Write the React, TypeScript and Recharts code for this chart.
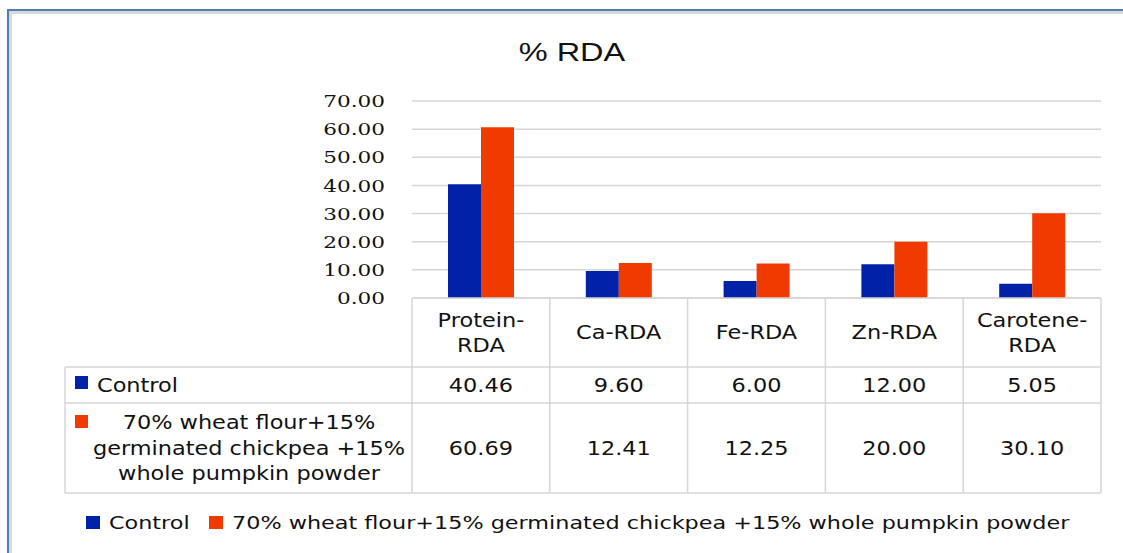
import React from 'react';
import { BarChart, Bar, XAxis, YAxis, CartesianGrid, Legend } from 'recharts';

const categories = ['Protein-RDA', 'Ca-RDA', 'Fe-RDA', 'Zn-RDA', 'Carotene-RDA'];
const headerLines = [['Protein-', 'RDA'], ['Ca-RDA'], ['Fe-RDA'], ['Zn-RDA'], ['Carotene-', 'RDA']];
const controlValues = [40.46, 9.6, 6.0, 12.0, 5.05];
const blendValues = [60.69, 12.41, 12.25, 20.0, 30.1];
const yTicks = [0, 10, 20, 30, 40, 50, 60, 70];
const seriesNames = ['Control', '70% wheat flour+15% germinated chickpea +15% whole pumpkin powder'];
const blendLabelLines = ['70% wheat flour+15%', 'germinated chickpea +15%', 'whole pumpkin powder'];
const title = '% RDA';

const data = categories.map((c, i) => ({ name: c, control: controlValues[i], blend: blendValues[i] }));

const W = 1123;
const H = 553;
const PLOT_LEFT = 412;
const PLOT_RIGHT_MARGIN = 22;
const PLOT_W = W - PLOT_LEFT - PLOT_RIGHT_MARGIN;
const BLUE = '#0022a8';
const ORANGE = '#f03a00';
const GRID = '#d6d6d6';
const TABLE_FONT = '"DejaVu Sans", sans-serif';
const SX = 1.18;

const ST = ({ x, y, anchor = 'middle', size = 19, sx = SX, family = TABLE_FONT, children }: any) => (
  <text
    transform={`translate(${x},${y}) scale(${sx},1)`}
    x={0}
    y={0}
    dy="0.36em"
    textAnchor={anchor}
    fontSize={size}
    fontFamily={family}
    fill="#111"
  >
    {children}
  </text>
);

const YTick = (props: any) => {
  const { y, payload } = props;
  return (
    <ST x={PLOT_LEFT - 27} y={y} anchor="end" size={17} sx={1.27} family='"DejaVu Serif", serif'>
      {Number(payload.value).toFixed(2)}
    </ST>
  );
};

const TableTick = (props: any) => {
  const { x, y, payload } = props;
  const idx = categories.indexOf(payload.value);
  const band = PLOT_W / categories.length;
  const top = y;
  const r1 = top + 69;
  const r2 = r1 + 36;
  const r3 = r2 + 90;
  const left = x - band / 2;
  const right = x + band / 2;
  const lines = headerLines[idx] || [payload.value];
  const hc = (top + r1) / 2;
  const lineStyle = { stroke: GRID, strokeWidth: 1.5 };
  const els: any[] = [];
  els.push(<line key="vr" x1={right} x2={right} y1={top} y2={r3} {...lineStyle} />);
  els.push(<line key="h1" x1={left} x2={right} y1={r1} y2={r1} {...lineStyle} />);
  els.push(<line key="h2" x1={left} x2={right} y1={r2} y2={r2} {...lineStyle} />);
  els.push(<line key="h3" x1={left} x2={right} y1={r3} y2={r3} {...lineStyle} />);
  if (idx === 0) {
    const lx = 65;
    els.push(<line key="vl" x1={left} x2={left} y1={top} y2={r3} {...lineStyle} />);
    els.push(<line key="lv" x1={lx} x2={lx} y1={r1} y2={r3} {...lineStyle} />);
    els.push(<line key="l1" x1={lx} x2={left} y1={r1} y2={r1} {...lineStyle} />);
    els.push(<line key="l2" x1={lx} x2={left} y1={r2} y2={r2} {...lineStyle} />);
    els.push(<line key="l3" x1={lx} x2={left} y1={r3} y2={r3} {...lineStyle} />);
    els.push(<rect key="kb" x={75} y={r1 + 9} width={13} height={13} fill={BLUE} />);
    els.push(<ST key="tc" x={97} y={(r1 + r2) / 2} anchor="start">{seriesNames[0]}</ST>);
    els.push(<rect key="ko" x={75} y={r2 + 12} width={13} height={13} fill={ORANGE} />);
    const mid = (r2 + r3) / 2;
    blendLabelLines.forEach((t, i) => {
      els.push(
        <ST key={'bl' + i} x={249} y={mid + (i - 1) * 25.5}>
          {t}
        </ST>
      );
    });
  }
  lines.forEach((t: string, i: number) => {
    const cy = lines.length === 1 ? hc : hc + (i - 0.5) * 25;
    els.push(
      <ST key={'hd' + i} x={x} y={cy}>
        {t}
      </ST>
    );
  });
  els.push(<ST key="vc" x={x} y={(r1 + r2) / 2}>{controlValues[idx].toFixed(2)}</ST>);
  els.push(<ST key="vb" x={x} y={(r2 + r3) / 2}>{blendValues[idx].toFixed(2)}</ST>);
  return <g>{els}</g>;
};

const LegendContent = () => {
  const colors = [BLUE, ORANGE];
  const pos = [86, 209];
  return (
    <svg width={W} height={30} style={{ display: 'block' }}>
      {seriesNames.map((n, i) => (
        <g key={n}>
          <rect x={pos[i]} y={8} width={14} height={13} fill={colors[i]} />
          <text
            transform={`translate(${pos[i] + 23},15) scale(1.24,1)`}
            dy="0.36em"
            fontSize={18}
            fontFamily={TABLE_FONT}
            fill="#111"
          >
            {n}
          </text>
        </g>
      ))}
    </svg>
  );
};

export default function App() {
  return (
    <div style={{ position: 'relative', width: W, height: H, overflow: 'hidden', background: '#fff' }}>
      <style>{`html,body{margin:0;padding:0;overflow:hidden;background:#fff}`}</style>
      <div
        style={{
          position: 'absolute',
          left: 7,
          top: 9,
          width: 1300,
          height: 700,
          border: '2px solid #4f7eb9',
          boxShadow: 'inset 0 0 0 3px #d9d9d9',
          boxSizing: 'border-box',
        }}
      />
      <svg width={W} height={90} style={{ position: 'absolute', left: 0, top: 0 }}>
        <text
          transform="translate(572,61) scale(1.25,1)"
          textAnchor="middle"
          fontSize={26}
          fontFamily='"Liberation Sans", Arial, sans-serif'
          fill="#111"
        >
          {title}
        </text>
      </svg>
      <div style={{ position: 'absolute', left: 0, top: 0 }}>
        <BarChart
          width={W}
          height={H}
          data={data}
          margin={{ top: 101, right: PLOT_RIGHT_MARGIN, left: 0, bottom: 0 }}
          barGap={0}
          barSize={33}
        >
          <CartesianGrid vertical={false} stroke={GRID} strokeWidth={1.5} />
          <YAxis
            width={PLOT_LEFT}
            domain={[0, 70]}
            ticks={yTicks}
            axisLine={false}
            tickLine={false}
            tick={<YTick />}
            interval={0}
          />
          <XAxis
            dataKey="name"
            height={255}
            axisLine={{ stroke: GRID, strokeWidth: 1.5 }}
            tickLine={false}
            tickSize={0}
            tickMargin={0}
            interval={0}
            tick={<TableTick />}
          />
          <Bar dataKey="control" name={seriesNames[0]} fill={BLUE} isAnimationActive={false} />
          <Bar dataKey="blend" name={seriesNames[1]} fill={ORANGE} isAnimationActive={false} />
          <Legend
            layout="horizontal"
            verticalAlign="middle"
            align="center"
            wrapperStyle={{ position: 'absolute', top: 508, left: 0, width: W, height: 30 }}
            content={<LegendContent />}
          />
        </BarChart>
      </div>
    </div>
  );
}
